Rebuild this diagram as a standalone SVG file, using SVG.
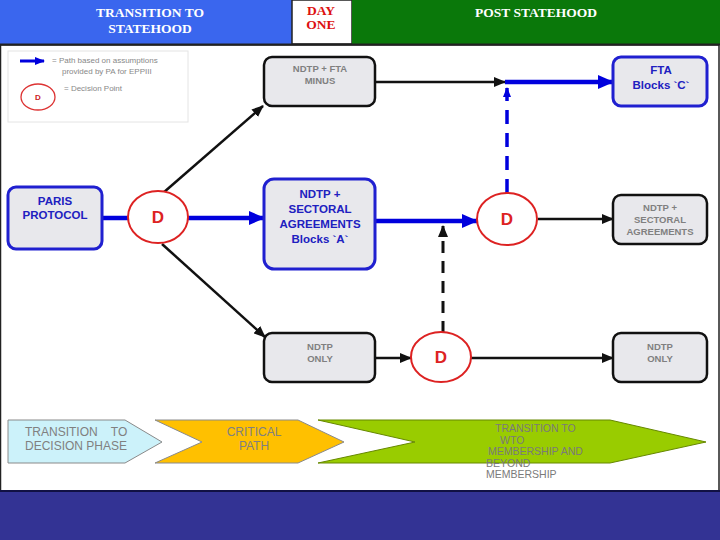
<svg xmlns="http://www.w3.org/2000/svg" width="720" height="540" viewBox="0 0 720 540">
<defs>
<style>
.hdr{font-family:"Liberation Serif",serif;font-size:13.5px;font-weight:bold;text-anchor:middle}
.bn{fill:#e8e8ec;stroke:#2020d0;stroke-width:3}
.gn{fill:#e8e8ec;stroke:#111;stroke-width:2.5}
.bt{font-family:"Liberation Sans",Arial,sans-serif;font-weight:bold;font-size:11.5px;fill:#2020c0;text-anchor:middle}
.gt{font-family:"Liberation Sans",Arial,sans-serif;font-weight:bold;font-size:9.5px;fill:#808080;text-anchor:middle}
.dn{fill:#fff;stroke:#dd2222;stroke-width:2}
.dt{font-family:"Liberation Sans",Arial,sans-serif;font-weight:bold;font-size:17px;fill:#dd2222;text-anchor:middle}
.bl{stroke:#111;stroke-width:2.5;fill:none}
.ul{stroke:#0000dd;stroke-width:4.5;fill:none}
.lg{font-family:"Liberation Sans",Arial,sans-serif;font-size:8px;fill:#888}
.ch{font-family:"Liberation Sans",Arial,sans-serif;font-size:12px;fill:#808080;white-space:pre}
.gr{font-family:"Liberation Sans",Arial,sans-serif;font-size:10.5px;fill:#7a7a7a}
</style>
<marker id="ab" markerUnits="userSpaceOnUse" markerWidth="12" markerHeight="10" refX="11" refY="5" orient="auto"><path d="M0,0 L12,5 L0,10 Z" fill="#111"/></marker>
<marker id="au" markerUnits="userSpaceOnUse" markerWidth="16" markerHeight="14" refX="15" refY="7" orient="auto"><path d="M0,0 L16,7 L0,14 Z" fill="#0000dd"/></marker>
<marker id="aus" markerUnits="userSpaceOnUse" markerWidth="10" markerHeight="8" refX="9" refY="4" orient="auto"><path d="M0,0 L10,4 L0,8 Z" fill="#0000dd"/></marker>
<marker id="abs" markerUnits="userSpaceOnUse" markerWidth="8" markerHeight="6" refX="7" refY="3" orient="auto"><path d="M0,0 L8,3 L0,6 Z" fill="#111"/></marker>
</defs>
<rect x="0" y="0" width="720" height="540" fill="#fff"/>
<g id="header">
<rect x="0" y="0" width="292" height="44" fill="#3a66ee"/>
<rect x="292" y="0" width="60" height="44" fill="#fff" stroke="#222" stroke-width="1.5"/>
<rect x="352" y="0" width="368" height="44" fill="#0a780a"/>
<line x1="0" y1="44.5" x2="720" y2="44.5" stroke="#222" stroke-width="2"/>
<text class="hdr" x="150" y="17" fill="#fff">TRANSITION TO</text>
<text class="hdr" x="150" y="33" fill="#fff">STATEHOOD</text>
<text class="hdr" x="321" y="15" fill="#dd1111" font-size="11.5">DAY</text>
<text class="hdr" x="321" y="29" fill="#dd1111" font-size="11.5">ONE</text>
<text class="hdr" x="536" y="17" fill="#fff">POST STATEHOOD</text>
</g>
<rect x="0.5" y="45" width="718.5" height="446" fill="none" stroke="#222" stroke-width="1.5"/>
<rect x="0" y="491" width="720" height="49" fill="#333394"/>
<line x1="0" y1="491" x2="720" y2="491" stroke="#111144" stroke-width="2"/>
<g id="legend">
<rect x="8" y="51" width="180" height="71" fill="#fff" stroke="#e4e4e4" stroke-width="1"/>
<line x1="20" y1="61" x2="44" y2="61" stroke="#0000dd" stroke-width="3" marker-end="url(#aus)"/>
<text class="lg" x="52" y="63">=  Path based on assumptions</text>
<text class="lg" x="62" y="74">provided by PA for  EPPIII</text>
<ellipse cx="38" cy="97" rx="17" ry="13" fill="#fff" stroke="#dd3333" stroke-width="1.3"/>
<text x="38" y="100" font-family="Liberation Sans,Arial,sans-serif" font-weight="bold" font-size="8" fill="#cc2222" text-anchor="middle">D</text>
<text class="lg" x="64" y="91">=  Decision Point</text>
</g>
<g id="connectors">
<line class="ul" x1="102" y1="218" x2="128" y2="218"/>
<line class="ul" x1="188" y1="218" x2="264" y2="218" marker-end="url(#au)"/>
<line class="ul" x1="375" y1="221" x2="477" y2="221" marker-end="url(#au)"/>
<line class="bl" x1="375" y1="82" x2="505" y2="82" marker-end="url(#ab)"/>
<line class="ul" x1="505" y1="82" x2="613" y2="82" marker-end="url(#au)"/>
<line x1="507" y1="193" x2="507" y2="88" stroke="#0000dd" stroke-width="3.5" stroke-dasharray="14,9" marker-start="url(#aus)" marker-end="url(#aus)"/>
<line class="bl" x1="538" y1="219" x2="613" y2="219" marker-end="url(#ab)"/>
<line class="bl" x1="163" y1="193" x2="263" y2="106" marker-end="url(#ab)"/>
<line class="bl" x1="162" y1="244" x2="265" y2="337" marker-end="url(#ab)"/>
<line class="bl" x1="375" y1="358" x2="411" y2="358" marker-end="url(#ab)"/>
<line class="bl" x1="471" y1="358" x2="613" y2="358" marker-end="url(#ab)"/>
<line x1="443" y1="333" x2="443" y2="226" stroke="#111" stroke-width="3" stroke-dasharray="12,8" marker-start="url(#abs)" marker-end="url(#ab)"/>
</g>
<g id="n_ndtp_fta_minus">
<rect class="gn" x="264" y="57" width="111" height="49" rx="8"/>
<text class="gt" x="320" y="72">NDTP + FTA</text>
<text class="gt" x="320" y="84">MINUS</text>
</g>
<g id="n_fta_c">
<rect class="bn" x="613" y="57" width="94" height="49" rx="8"/>
<text class="bt" x="661" y="74">FTA</text>
<text class="bt" x="661" y="89">Blocks `C`</text>
</g>
<g id="n_paris">
<rect class="bn" x="8" y="187" width="94" height="62" rx="8"/>
<text class="bt" x="55" y="205">PARIS</text>
<text class="bt" x="55" y="219">PROTOCOL</text>
</g>
<g id="d1">
<ellipse class="dn" cx="158" cy="217" rx="30" ry="26"/>
<text class="dt" x="158" y="223">D</text>
</g>
<g id="n_sectoral_a">
<rect class="bn" x="264" y="179" width="111" height="90" rx="10"/>
<text class="bt" x="320" y="198">NDTP +</text>
<text class="bt" x="320" y="213">SECTORAL</text>
<text class="bt" x="320" y="228">AGREEMENTS</text>
<text class="bt" x="320" y="243">Blocks `A`</text>
</g>
<g id="d2">
<ellipse class="dn" cx="507" cy="219" rx="30" ry="26"/>
<text class="dt" x="507" y="225">D</text>
</g>
<g id="n_sectoral_r">
<rect class="gn" x="613" y="195" width="94" height="49" rx="8"/>
<text class="gt" x="660" y="211">NDTP +</text>
<text class="gt" x="660" y="223">SECTORAL</text>
<text class="gt" x="660" y="235">AGREEMENTS</text>
</g>
<g id="n_only_l">
<rect class="gn" x="264" y="333" width="111" height="49" rx="8"/>
<text class="gt" x="320" y="350">NDTP</text>
<text class="gt" x="320" y="362">ONLY</text>
</g>
<g id="d3">
<ellipse class="dn" cx="441" cy="357" rx="30" ry="25"/>
<text class="dt" x="441" y="363">D</text>
</g>
<g id="n_only_r">
<rect class="gn" x="613" y="333" width="94" height="49" rx="8"/>
<text class="gt" x="660" y="350">NDTP</text>
<text class="gt" x="660" y="362">ONLY</text>
</g>
<g id="phases">
<polygon points="8,420 125,420 162,442 125,463 8,463" fill="#ccf2fa" stroke="#8a8a8a" stroke-width="1"/>
<text class="ch" x="25" y="436" xml:space="preserve">TRANSITION    TO</text>
<text class="ch" x="25" y="450">DECISION PHASE</text>
<polygon points="155,420 298,420 344,442 298,463 155,463 202,442" fill="#ffc000" stroke="#8a8a8a" stroke-width="1"/>
<text class="ch" x="254" y="436" text-anchor="middle" fill="#a08a50">CRITICAL</text>
<text class="ch" x="254" y="450" text-anchor="middle" fill="#a08a50">PATH</text>
<polygon points="318,420 610,420 706,442 610,463 318,463 415,442" fill="#99cc00" stroke="#668800" stroke-width="1"/>
<text class="gr" x="495" y="432">TRANSITION TO</text>
<text class="gr" x="500" y="443.5">WTO</text>
<text class="gr" x="488" y="455">MEMBERSHIP AND</text>
<text class="gr" x="486" y="466.5">BEYOND</text>
<text class="gr" x="486" y="478">MEMBERSHIP</text>
</g>
</svg>
